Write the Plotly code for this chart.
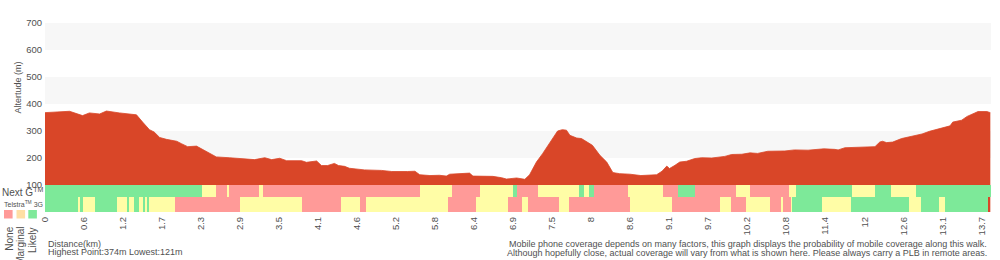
import plotly.graph_objects as go

# ---------------- data ----------------
dist_km = [0.00, 0.14, 0.29, 0.36, 0.55, 0.65, 0.80, 0.90, 1.09, 1.28, 1.34, 1.43, 1.53, 1.60, 1.68,
           1.78, 1.93, 2.00, 2.09, 2.22, 2.31, 2.41, 2.51, 2.70, 2.84, 2.92, 3.07, 3.22, 3.32, 3.44,
           3.54, 3.76, 3.83, 3.98, 4.05, 4.14, 4.24, 4.30, 4.39, 4.46, 4.68, 4.93, 5.08, 5.31, 5.42,
           5.49, 5.64, 5.78, 5.88, 5.93, 6.12, 6.22, 6.27, 6.56, 6.69, 6.76, 6.91, 6.95, 7.03, 7.10,
           7.20, 7.29, 7.39, 7.47, 7.51, 7.58, 7.64, 7.69, 7.79, 7.86, 7.94, 8.02, 8.13, 8.23, 8.32,
           8.42, 8.57, 8.73, 8.96, 9.04, 9.11, 9.15, 9.23, 9.30, 9.40, 9.52, 9.62, 9.77, 9.96, 10.06,
           10.21, 10.33, 10.44, 10.59, 10.84, 10.98, 11.18, 11.41, 11.57, 11.62, 11.72, 12.16, 12.23,
           12.27, 12.33, 12.42, 12.55, 12.70, 12.85, 12.96, 13.14, 13.26, 13.30, 13.43, 13.51, 13.58,
           13.67, 13.80, 13.85]
elev_m = [368, 371, 374, 373, 357, 367, 363, 374, 367, 361, 360, 333, 305, 296, 276,
          269, 262, 253, 242, 244, 232, 216, 204, 201, 199, 198, 194, 201, 194, 199,
          190, 190, 184, 189, 172, 172, 180, 172, 169, 162, 156, 154, 150, 150, 151,
          138, 135, 136, 133, 140, 144, 144, 133, 132, 127, 122, 126, 124, 121, 138,
          185, 216, 253, 284, 300, 305, 303, 284, 274, 272, 259, 247, 210, 185, 146,
          142, 140, 135, 138, 151, 170, 161, 173, 185, 188, 198, 201, 200, 206, 213,
          214, 219, 217, 225, 226, 230, 229, 234, 232, 230, 238, 242, 259,
          262, 257, 259, 272, 280, 289, 299, 311, 319, 333, 340, 354, 362,
          372, 372, 368]

# coverage: segment start distances (km) and level N=None, M=Marginal, L=Likely
nextg_start = [0, 2.30, 2.51, 2.66, 2.69, 3.13, 3.20, 5.49, 5.97, 6.37, 6.85, 6.92, 7.23, 7.82,
               7.89, 7.97, 8.04, 8.54, 9.06, 9.28, 9.53, 10.13, 10.33, 10.90, 11.01, 11.82,
               12.16, 12.39, 12.76]
nextg_level = ['L', 'M', 'N', 'M', 'N', 'M', 'N', 'M', 'N', 'M', 'L', 'N', 'M', 'L',
               'M', 'L', 'N', 'M', 'N', 'L', 'N', 'M', 'N', 'M', 'L', 'M',
               'L', 'M', 'L']
nextg_end = 13.86

g3_start = [0, 0.49, 0.52, 0.56, 0.73, 1.06, 1.21, 1.23, 1.30, 1.37, 1.44, 1.47, 1.49, 1.52,
            1.90, 2.85, 3.77, 4.34, 4.62, 4.70, 5.91, 6.31, 6.79, 6.99, 7.07, 7.53, 7.67,
            8.57, 9.19, 9.89, 10.05, 10.27, 10.62, 10.79, 10.81, 10.93, 10.95, 11.39, 11.81,
            12.66, 12.83, 13.10, 13.18]
g3_level = ['L', 'M', 'L', 'M', 'L', 'M', 'L', 'M', 'L', 'M', 'L', 'M', 'L', 'M',
            'N', 'M', 'N', 'M', 'N', 'M', 'N', 'M', 'N', 'M', 'N', 'M', 'N',
            'M', 'N', 'M', 'N', 'M', 'N', 'M', 'N', 'M', 'L', 'M', 'L',
            'M', 'L', 'M', 'L']
g3_end = 13.82

tick_labels = ['0', '0.6', '1.2', '1.7', '2.3', '2.9', '3.5', '4.1', '4.6', '5.2', '5.8', '6.4',
               '6.9', '7.5', '8', '8.6', '9.1', '9.7', '10.2', '10.8', '11.4', '12', '12.6',
               '13.1', '13.7']
tick_step_km = 0.5717
y_ticks = [100, 200, 300, 400, 500, 600, 700]

# ---------------- styling ----------------
FONT = "Liberation Sans, Arial, Helvetica, sans-serif"
TXT = "#505050"
ELEV = "#D94628"
LEVEL_COLORS = {'N': '#FF9A98', 'M': '#FFFDA6', 'L': '#7DE999'}

L, R, T, B = 45, 9, 23, 48
W, H = 1000 - L - R, 260 - T - B


def pxx(p):
    return (p - L) / W


def pxy(p):
    return (T + H - p) / H


def seg_widths(starts, end):
    ends = starts[1:] + [end]
    return [e - s for s, e in zip(starts, ends)]


fig = go.Figure()

fig.add_trace(go.Scatter(
    x=dist_km, y=elev_m, mode='lines', fill='tozeroy',
    line=dict(color=ELEV, width=0.8), fillcolor=ELEV, hoverinfo='skip', showlegend=False))

fig.add_trace(go.Bar(
    x=nextg_start, width=seg_widths(nextg_start, nextg_end), offset=0,
    y=[45] * len(nextg_start), base=55,
    marker=dict(color=[LEVEL_COLORS[v] for v in nextg_level], line=dict(width=0)),
    yaxis='y2', hoverinfo='skip', showlegend=False))

fig.add_trace(go.Bar(
    x=g3_start, width=seg_widths(g3_start, g3_end), offset=0,
    y=[55] * len(g3_start), base=0,
    marker=dict(color=[LEVEL_COLORS[v] for v in g3_level], line=dict(width=0)),
    yaxis='y2', hoverinfo='skip', showlegend=False))

shapes = []
for lo in (200, 400, 600):
    shapes.append(dict(type='rect', xref='paper', yref='y', x0=0, x1=1, y0=lo, y1=lo + 100,
                       fillcolor='#F7F7F7', line=dict(width=0), layer='below'))

# legend swatches
for x0, col in ((4, '#FF9A98'), (16.5, '#FFDFA4'), (28.3, '#7FE99A')):
    shapes.append(dict(type='rect', xref='paper', yref='paper',
                       x0=pxx(x0), x1=pxx(x0 + 8.6), y0=pxy(218.5), y1=pxy(210),
                       fillcolor=col, line=dict(width=0)))

ann = []


def add_text(text, x, y, size=9, xanchor='left', yanchor='middle', angle=0, color=TXT):
    ann.append(dict(text=text, xref='paper', yref='paper', x=pxx(x), y=pxy(y),
                    xanchor=xanchor, yanchor=yanchor, showarrow=False, textangle=angle,
                    font=dict(family=FONT, size=size, color=color)))


add_text('Altertude (m)', 17, 87.5, size=9, xanchor='center', yanchor='middle', angle=-90)
add_text('Next G<sup>TM</sup>', 0, 191.5, size=10, xanchor='left')
add_text('Telstra<sup>TM</sup> 3G', 2, 204, size=7, xanchor='left')
add_text('None', 8.7, 225, size=10, xanchor='center', yanchor='top', angle=-90)
add_text('Marginal', 19.8, 225, size=10, xanchor='center', yanchor='top', angle=-90)
add_text('Likely', 32, 225, size=10, xanchor='center', yanchor='top', angle=-90)
add_text('Distance(km)', 46, 243.5, size=9)
add_text('Highest Point:374m Lowest:121m', 46, 252.5, size=9)
add_text('Mobile phone coverage depends on many factors, this graph displays the probability '
         'of mobile coverage along this walk.', 989, 244.5, size=9, xanchor='right')
add_text('Although hopefully close, actual coverage will vary from what is shown here. '
         'Please always carry a PLB in remote areas.', 989, 253, size=9, xanchor='right')

fig.update_layout(
    width=1000, height=260,
    margin=dict(l=L, r=R, t=T, b=B, pad=0),
    paper_bgcolor='white', plot_bgcolor='white',
    barmode='overlay', bargap=0,
    font=dict(family=FONT, size=9, color=TXT),
    showlegend=False,
    shapes=shapes, annotations=ann,
    xaxis=dict(range=[0, 13.86], tickvals=[i * tick_step_km for i in range(len(tick_labels))],
               ticktext=tick_labels, tickangle=-90, ticks='', showgrid=False, zeroline=False,
               showline=False, ticklabelstandoff=2,
               tickfont=dict(family=FONT, size=9.5, color=TXT), fixedrange=True),
    yaxis=dict(range=[0, 700], tickvals=y_ticks, ticks='', showgrid=False, zeroline=False,
               showline=False, ticklabelstandoff=2,
               tickfont=dict(family=FONT, size=9.5, color=TXT), fixedrange=True),
    yaxis2=dict(range=[0, 700], overlaying='y', visible=False, fixedrange=True),
)

fig.write_html("out.html")
